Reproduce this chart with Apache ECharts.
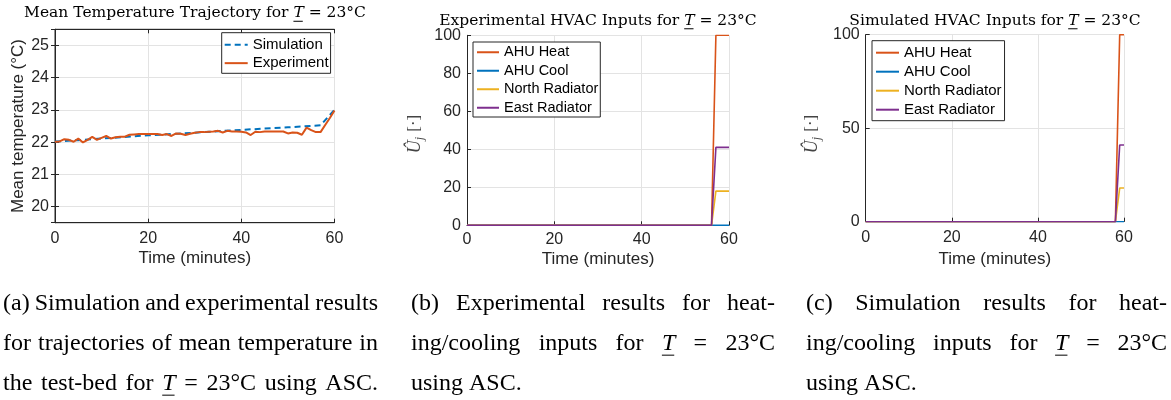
<!DOCTYPE html>
<html>
<head>
<meta charset="utf-8">
<script src="https://cdn.jsdelivr.net/npm/echarts@6/dist/echarts.min.js"></script>
<style>
  html, body { margin: 0; padding: 0; background: #fff; }
  #main { width: 1171px; height: 400px; }
</style>
</head>
<body>
<div id="main"></div>
<script>
// (a) mean temperature, one reading per minute
var minutes = [0,1,2,3,4,5,6,7,8,9,10,11,12,13,14,15,16,17,18,19,20,21,22,23,24,25,26,27,28,29,30,
  31,32,33,34,35,36,37,38,39,40,41,42,43,44,45,46,47,48,49,50,51,52,53,54,55,56,57,58,59,60];
var experimentTemp = [22.01,22.02,22.09,22.07,22.01,22.11,21.99,22.07,22.16,22.07,22.13,22.19,22.11,22.15,22.17,22.17,
  22.23,22.24,22.25,22.25,22.25,22.25,22.25,22.22,22.25,22.19,22.27,22.26,22.22,22.26,22.29,
  22.31,22.31,22.32,22.33,22.35,22.30,22.35,22.33,22.33,22.32,22.30,22.22,22.32,22.31,22.33,
  22.33,22.33,22.33,22.33,22.27,22.30,22.29,22.23,22.45,22.37,22.31,22.31,22.53,22.75,22.98];
var simMinutes = [0,5,10,15,20,25,30,35,40,45,50,55,57,60];
var simulationTemp = [22.02,22.06,22.11,22.16,22.21,22.25,22.29,22.34,22.38,22.42,22.46,22.50,22.52,23.0];

// (b) and (c) HVAC inputs, break points only
var inputNames = ['AHU Heat', 'AHU Cool', 'North Radiator', 'East Radiator'];
var inputColors = ['#D95319', '#0072BD', '#EDB120', '#7E2F8E'];
var expMinutes = [0, 56, 57, 60];
var expHeat = [0, 0, 100, 100];
var expCool = [0, 0, 0, 0];
var expNorth = [0, 0, 18, 18];
var expEast = [0, 0, 41, 41];
var simHvacMinutes = [0, 58, 59, 60];
var simHeat = [0, 0, 100, 100];
var simCool = [0, 0, 0, 0];
var simNorth = [0, 0, 18, 18];
var simEast = [0, 0, 41, 41];

var timeRange = [0, 60];
var tempRange = [19.5, 25.5];
var inputRange = [0, 100];

function pairs(xs, ys) {
  return xs.map(function (x, i) { return [x, ys[i]]; });
}

var ink = '#262626';
var sans = 'Liberation Sans';

// measure text for titles / captions
var ctx = document.createElement('canvas').getContext('2d');
function textW(t, font) { ctx.font = font; return ctx.measureText(t).width; }

function txt(t, x, y, font, fill) {
  return {
    type: 'text', x: x, y: y,
    style: { text: t, font: font, fill: fill || '#000', align: 'left', verticalAlign: 'middle',
      textAlign: 'left', textVerticalAlign: 'middle' }
  };
}

// lay out a row of words; T gets italic + underline
function wordRow(words, left, right, yc, size, fam, justify, center) {
  var fonts = words.map(function (w) {
    return (w === 'T' ? 'italic ' : '') + size + 'px "' + fam + '"';
  });
  var widths = words.map(function (w, i) { return textW(w, fonts[i]); });
  var sum = widths.reduce(function (a, b) { return a + b; }, 0);
  var space = textW(' ', fonts[0]);
  var gap = justify ? (right - left - sum) / (words.length - 1) : space;
  var x = left;
  if (center) x = center - (sum + gap * (words.length - 1)) / 2;
  var out = [];
  words.forEach(function (w, i) {
    out.push(txt(w, x, yc, fonts[i]));
    if (w === 'T') {
      var by = yc + size * 0.34 + 3;
      out.push({
        type: 'line', shape: { x1: x, y1: by, x2: x + widths[i] - 1, y2: by },
        style: { stroke: '#000', lineWidth: 1 }
      });
    }
    x += widths[i] + gap;
  });
  return out;
}

// rotated "U-hat sub j [.]" label
function uLabel(cx, cy) {
  var f1 = 'italic 18px "Liberation Serif"', f2 = 'italic 12px "Liberation Serif"', f3 = '17px "Liberation Serif"';
  var w1 = textW('Û', f1), w2 = textW('j', f2), w3 = textW(' [·]', f3);
  var x0 = -(w1 + w2 + 1 + w3) / 2;
  return {
    type: 'group', x: cx, y: cy, rotation: Math.PI / 2,
    children: [
      txt('Û', x0, 0, f1, '#444'),
      txt('j', x0 + w1, 5, f2, '#444'),
      txt(' [·]', x0 + w1 + w2 + 1, 0, f3, '#444')
    ]
  };
}

var graphics = [];
// plot titles
graphics = graphics.concat(wordRow('Mean Temperature Trajectory for T = 23°C'.split(' '), 0, 0, 13, 15.5, 'DejaVu Serif', false, 195));
graphics = graphics.concat(wordRow('Experimental HVAC Inputs for T = 23°C'.split(' '), 0, 0, 20.5, 15.5, 'DejaVu Serif', false, 598));
graphics = graphics.concat(wordRow('Simulated HVAC Inputs for T = 23°C'.split(' '), 0, 0, 20.5, 15.5, 'DejaVu Serif', false, 995));
graphics.push(uLabel(415, 134));
graphics.push(uLabel(812, 134));

// sub-figure captions
var capRows = [304, 344, 384];
var captions = [
  { left: 3, right: 378, lines: ['(a) Simulation and experimental results', 'for trajectories of mean temperature in', 'the test-bed for T = 23°C using ASC.'], lastJust: true },
  { left: 411, right: 775, lines: ['(b) Experimental results for heat-', 'ing/cooling inputs for T = 23°C', 'using ASC.'], lastJust: false },
  { left: 806, right: 1167, lines: ['(c) Simulation results for heat-', 'ing/cooling inputs for T = 23°C', 'using ASC.'], lastJust: false }
];
captions.forEach(function (c) {
  c.lines.forEach(function (ln, i) {
    var just = i < 2 || c.lastJust;
    graphics = graphics.concat(wordRow(ln.split(' '), c.left, c.right, capRows[i], 24, 'Liberation Serif', just));
  });
});

var grid = { show: true, lineStyle: { color: '#e3e3e3', width: 1 } };
var tick = { show: true, inside: true, length: 4, lineStyle: { color: ink } };

function xAxisFor(gi, labelMargin, nameGap) {
  return {
    type: 'value', gridIndex: gi, min: timeRange[0], max: timeRange[1], interval: 20,
    name: 'Time (minutes)', nameLocation: 'middle', nameGap: nameGap,
    nameTextStyle: { fontFamily: sans, fontSize: 17, color: ink },
    axisLine: { show: true, onZero: false, lineStyle: { color: ink, width: 1 } },
    axisTick: tick,
    axisLabel: { fontFamily: sans, fontSize: 16, color: ink, margin: labelMargin },
    splitLine: grid
  };
}

function inputAxis(gi, interval) {
  return {
    type: 'value', gridIndex: gi, min: inputRange[0], max: inputRange[1], interval: interval,
    axisLine: { show: true, onZero: false, lineStyle: { color: ink, width: 1 } },
    axisTick: tick,
    axisLabel: { fontFamily: sans, fontSize: 16, color: ink, margin: 6 },
    splitLine: grid
  };
}

function inputSeries(axisIdx, xs, cols) {
  return cols.map(function (ys, i) {
    return {
      name: inputNames[i], type: 'line', xAxisIndex: axisIdx, yAxisIndex: axisIdx,
      data: pairs(xs, ys), symbol: 'none',
      lineStyle: { color: inputColors[i], width: 1.6 }, itemStyle: { color: inputColors[i] }
    };
  });
}

function legendBox(left, top, names, fontSize, rowH, pad, itemW) {
  return {
    orient: 'vertical', left: left, top: top, data: names,
    itemWidth: itemW, itemHeight: 2, itemGap: 0, padding: pad,
    itemStyle: { opacity: 0 },
    backgroundColor: '#fff', borderColor: ink, borderWidth: 1, borderRadius: 0,
    selectedMode: false,
    textStyle: { fontFamily: sans, fontSize: fontSize, color: '#000', lineHeight: rowH }
  };
}

var chart = echarts.init(document.getElementById('main'));
chart.setOption({
  animation: false,
  backgroundColor: '#fff',
  grid: [
    { left: 55, top: 29.3, width: 279.5, height: 193.4, show: true, borderColor: ink, borderWidth: 1, backgroundColor: 'transparent' },
    { left: 467, top: 35.3, width: 262, height: 190 },
    { left: 865.7, top: 34.7, width: 258.3, height: 187 }
  ],
  xAxis: [
    xAxisFor(0, 8, 27), xAxisFor(1, 6, 26), xAxisFor(2, 8, 29),
    // mirrored ticks on the boxed panel
    { type: 'value', gridIndex: 0, position: 'top', min: timeRange[0], max: timeRange[1], interval: 20,
      axisLine: { show: true, lineStyle: { color: ink } }, axisTick: tick,
      axisLabel: { show: false }, splitLine: { show: false } }
  ],
  yAxis: [
    {
      type: 'value', gridIndex: 0, min: tempRange[0], max: tempRange[1], splitNumber: 6,
      name: 'Mean temperature (°C)', nameLocation: 'middle', nameRotate: 90, nameGap: 27,
      nameTextStyle: { fontFamily: sans, fontSize: 17, color: ink },
      axisLine: { show: true, lineStyle: { color: ink, width: 1 } },
      axisTick: tick,
      axisLabel: {
        fontFamily: sans, fontSize: 16, color: ink, margin: 6,
        formatter: function (v) { return Math.abs(v - Math.round(v)) < 1e-6 ? String(Math.round(v)) : ''; }
      },
      splitLine: grid
    },
    inputAxis(1, 20),
    inputAxis(2, 50),
    { type: 'value', gridIndex: 0, position: 'right', min: tempRange[0], max: tempRange[1], splitNumber: 6,
      axisLine: { show: true, lineStyle: { color: ink } }, axisTick: tick,
      axisLabel: { show: false }, splitLine: { show: false } }
  ],
  legend: [
    legendBox(221.7, 32.7, ['Simulation', 'Experiment'], 15, 18.3, [3, 2, 1, 2], 23),
    legendBox(473, 42, inputNames, 14.5, 18.5, [1, 2, 0, 3], 22),
    legendBox(872, 40.7, inputNames, 15, 19, [2.5, 3, 1.5, 3], 23)
  ],
  series: [
    {
      name: 'Simulation', type: 'line', xAxisIndex: 0, yAxisIndex: 0,
      data: pairs(simMinutes, simulationTemp), symbol: 'none',
      lineStyle: { color: '#0072BD', width: 2, type: [6, 4] }, itemStyle: { color: '#0072BD' }
    },
    {
      name: 'Experiment', type: 'line', xAxisIndex: 0, yAxisIndex: 0,
      data: pairs(minutes, experimentTemp), symbol: 'none',
      lineStyle: { color: '#D95319', width: 2 }, itemStyle: { color: '#D95319' }
    }
  ].concat(inputSeries(1, expMinutes, [expHeat, expCool, expNorth, expEast]))
   .concat(inputSeries(2, simHvacMinutes, [simHeat, simCool, simNorth, simEast])),
  graphic: graphics
});
</script>
</body>
</html>
